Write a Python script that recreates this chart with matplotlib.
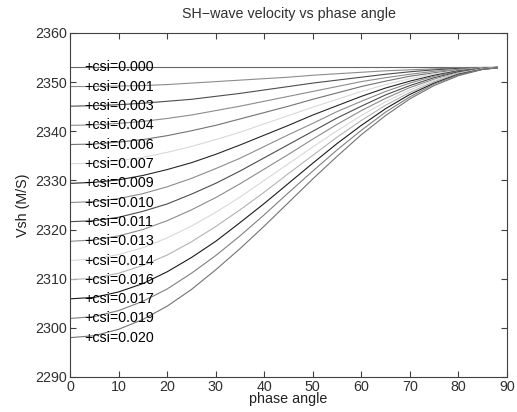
import matplotlib
matplotlib.use('Agg')
import matplotlib.pyplot as plt

# phase angles (degrees)
angle = [0, 5, 10, 15, 20, 25, 30, 35, 40, 45, 50, 55, 60, 65, 70, 75, 80, 85, 88]

csi_labels = ['0.000', '0.001', '0.003', '0.004', '0.006', '0.007', '0.009', '0.010',
              '0.011', '0.013', '0.014', '0.016', '0.017', '0.019', '0.020']

# Vsh values, one list per csi
vsh = [
    [2353.0, 2353.0, 2353.0, 2353.0, 2353.0, 2353.0, 2353.0, 2353.0, 2353.0, 2353.0,
     2353.0, 2353.0, 2353.0, 2353.0, 2353.0, 2353.0, 2353.0, 2353.0, 2353.0],
    [2349.1, 2349.1, 2349.2, 2349.3, 2349.5, 2349.8, 2350.1, 2350.4, 2350.7, 2351.0,
     2351.4, 2351.7, 2352.0, 2352.3, 2352.5, 2352.7, 2352.9, 2353.0, 2353.0],
    [2345.1, 2345.2, 2345.4, 2345.7, 2346.1, 2346.5, 2347.1, 2347.7, 2348.4, 2349.1,
     2349.8, 2350.4, 2351.0, 2351.6, 2352.1, 2352.5, 2352.8, 2352.9, 2353.0],
    [2341.2, 2341.3, 2341.6, 2342.0, 2342.6, 2343.3, 2344.2, 2345.1, 2346.1, 2347.1,
     2348.1, 2349.1, 2350.1, 2350.9, 2351.6, 2352.2, 2352.6, 2352.9, 2353.0],
    [2337.3, 2337.4, 2337.8, 2338.3, 2339.1, 2340.1, 2341.2, 2342.5, 2343.8, 2345.1,
     2346.5, 2347.8, 2349.1, 2350.2, 2351.2, 2351.9, 2352.5, 2352.9, 2353.0],
    [2333.4, 2333.5, 2334.0, 2334.7, 2335.7, 2336.9, 2338.3, 2339.8, 2341.5, 2343.2,
     2344.9, 2346.5, 2348.1, 2349.5, 2350.7, 2351.7, 2352.4, 2352.9, 2353.0],
    [2329.4, 2329.6, 2330.1, 2331.0, 2332.2, 2333.6, 2335.3, 2337.2, 2339.2, 2341.2,
     2343.3, 2345.2, 2347.1, 2348.8, 2350.2, 2351.4, 2352.3, 2352.8, 2353.0],
    [2325.5, 2325.7, 2326.3, 2327.3, 2328.7, 2330.4, 2332.4, 2334.5, 2336.9, 2339.3,
     2341.6, 2344.0, 2346.1, 2348.1, 2349.8, 2351.2, 2352.2, 2352.8, 2353.0],
    [2321.6, 2321.8, 2322.5, 2323.7, 2325.2, 2327.2, 2329.4, 2331.9, 2334.6, 2337.3,
     2340.0, 2342.7, 2345.1, 2347.4, 2349.3, 2350.9, 2352.1, 2352.8, 2353.0],
    [2317.6, 2317.9, 2318.7, 2320.0, 2321.8, 2324.0, 2326.5, 2329.3, 2332.3, 2335.3,
     2338.4, 2341.4, 2344.2, 2346.7, 2348.9, 2350.6, 2351.9, 2352.7, 2353.0],
    [2313.7, 2314.0, 2314.9, 2316.3, 2318.3, 2320.7, 2323.5, 2326.6, 2330.0, 2333.4,
     2336.8, 2340.1, 2343.2, 2346.0, 2348.4, 2350.4, 2351.8, 2352.7, 2353.0],
    [2309.8, 2310.1, 2311.1, 2312.7, 2314.8, 2317.5, 2320.6, 2324.0, 2327.6, 2331.4,
     2335.1, 2338.8, 2342.2, 2345.3, 2347.9, 2350.1, 2351.7, 2352.7, 2352.9],
    [2305.9, 2306.2, 2307.3, 2309.0, 2311.4, 2314.3, 2317.6, 2321.4, 2325.3, 2329.4,
     2333.5, 2337.5, 2341.2, 2344.6, 2347.5, 2349.8, 2351.6, 2352.6, 2352.9],
    [2301.9, 2302.3, 2303.5, 2305.4, 2307.9, 2311.1, 2314.7, 2318.7, 2323.0, 2327.5,
     2331.9, 2336.2, 2340.2, 2343.9, 2347.0, 2349.6, 2351.5, 2352.6, 2352.9],
    [2298.0, 2298.4, 2299.7, 2301.7, 2304.4, 2307.8, 2311.8, 2316.1, 2320.7, 2325.5,
     2330.3, 2334.9, 2339.3, 2343.2, 2346.6, 2349.3, 2351.3, 2352.6, 2352.9],
]

# grey level of each curve
greys = ['0.40', '0.55', '0.30', '0.55', '0.45', '0.85', '0.15', '0.55',
         '0.30', '0.55', '0.85', '0.70', '0.10', '0.50', '0.45']

plt.rcParams['font.family'] = ['Liberation Sans', 'DejaVu Sans']

fig = plt.figure(figsize=(5.17, 4.12), dpi=100)
ax = fig.add_axes([0.1354, 0.085, 0.8453, 0.835])

for v, lab, g in zip(vsh, csi_labels, greys):
    ax.plot(angle, v, color=g, linewidth=0.8)
    ax.text(3, v[0], '+csi=' + lab, fontsize=10.3, va='center', ha='left', color='black')

ax.set_xlim(0, 90)
ax.set_ylim(2290, 2360)
ax.set_xticks(range(0, 91, 10))
ax.set_yticks(range(2290, 2361, 10))
ax.tick_params(direction='in', top=True, right=True, length=4, width=0.8,
               labelsize=10.3, colors='#404040', labelcolor='#303030', pad=2)
for s in ax.spines.values():
    s.set_color('#404040')
    s.set_linewidth(0.8)

ax.set_xlabel('phase angle', fontsize=10.3, labelpad=-1, color='#202020')
ax.set_ylabel('Vsh (M/S)', fontsize=10.3, labelpad=4, color='#202020')
ax.set_title('SH\u2212wave velocity vs phase angle', fontsize=10.3, pad=11, color='#303030')

fig.savefig('out.png', dpi=100)
